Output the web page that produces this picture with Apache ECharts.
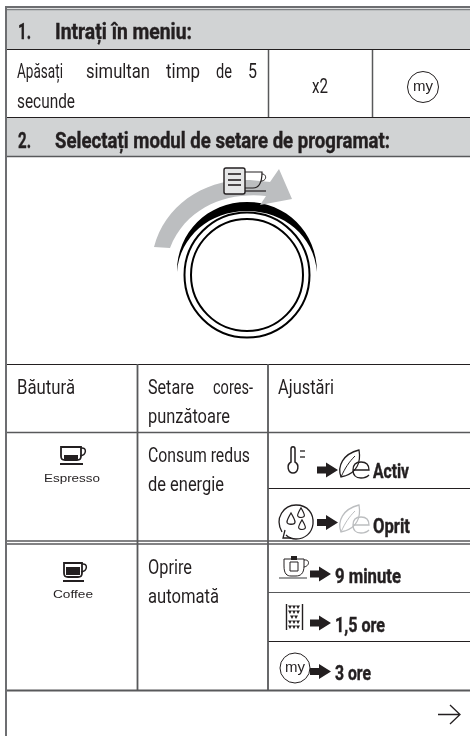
<!DOCTYPE html>
<html><head><meta charset="utf-8">
<style>html,body{margin:0;padding:0;background:#fff}#c{width:470px;height:736px}</style>
<script src="https://cdn.jsdelivr.net/npm/echarts@6/dist/echarts.min.js"></script>
</head><body><div id="c"></div>
<script>
const NARROW='"Roboto","Liberation Sans",sans-serif';
const ARIAL='"Liberation Sans",Arial,sans-serif';
// text, x, baseline y, target width
const headings=[['1.',18,38,13],['Intrați în meniu:',55,38,137],['2.',18,147,13],['Selectați modul de setare de programat:',55,147,335]];
const bodyWords=[['Apăsați',17,77,46],['simultan',86,77,64],['timp',166,77,34],['de',216,77,16],['5',248,77,9],['secunde',17,107,58],
['x2',312,92,16],['Băutură',17,393,58],['Setare',148,393,46],['cores-',213,393,40],['punzătoare',148,422,82],['Ajustări',278,393,56],
['Consum redus',148,461,102],['de energie',148,490,76],['Oprire',148,573,44],['automată',148,602,71]];
const boldWords=[['Activ',373,477,36],['Oprit',373,532,37],['9 minute',335,582,66],['1,5 ore',335,631,50],['3 ore',335,679,36]];
const beverages=[['Espresso',44,481,56],['Coffee',53,597,40]];
const arrowRows=[[317,470],[317,522.5],[310,574],[310,623],[310,671.5]];
const EL=[];
let pid=0;
function rect(x,y,w,h,fill){EL.push({type:'rect',silent:true,shape:{x,y,width:w,height:h},style:{fill}});}
function line(x1,y1,x2,y2,stroke,lw){EL.push({type:'line',silent:true,shape:{x1,y1,x2,y2},style:{stroke,lineWidth:lw}});}
function circle(cx,cy,r,stroke,lw,fill){EL.push({type:'circle',silent:true,shape:{cx,cy,r},style:{stroke,lineWidth:lw,fill:fill||'none'}});}
function rawPath(d,style,x,y,sx,sy){const name='svgp'+(pid++);echarts.graphic.registerShape(name,echarts.graphic.extendPath(d,{}));
 EL.push({type:name,silent:true,x:x||0,y:y||0,scaleX:sx||1,scaleY:sy||sx||1,style});}
const path=rawPath;
const meas=document.createElement('canvas').getContext('2d');
function text(s,x,y,w,font,fs,heavy,fam){const f=font+' '+fs+'px '+(fam||NARROW);meas.font=f;const mw=meas.measureText(s).width;
 const style={text:s,x:0,y:0,font:f,fill:'#231f20',verticalAlign:'middle',align:'left'};
 if(heavy){style.stroke='#231f20';style.lineWidth=heavy;}
 EL.push({type:'text',silent:true,x,y:y-fs*0.22,scaleX:w?w/mw:1,style});}

// header bands
rect(7,10,463,39,'#d1d3d4');rect(7,118,463,38,'#d1d3d4');
// rules
const G='#58595b',K='#231f20';
line(5,7,470,7,'#6d6e71',2);line(5,9.5,470,9.5,'#808285',1.5);
line(6,6,6,736,'#6d6e71',2);
line(7,49.5,470,49.5,K,1.2);line(7,117.5,470,117.5,K,1.2);line(7,156.5,470,156.5,G,1.5);
line(268.5,50,268.5,117,G,1.5);line(372.5,50,372.5,117,G,1.5);
line(7,364.5,470,364.5,K,1.2);line(7,432.5,470,432.5,G,1.5);
line(268,488.5,470,488.5,K,1.2);
line(7,541,470,541,G,1.5);line(7,544,470,544,G,1.5);
line(268,592.5,470,592.5,G,1.2);line(268,641.5,470,641.5,K,1.2);
line(7,690.5,470,690.5,G,1.8);
line(137.5,364,137.5,690,G,1.8);line(268,364,268,690,G,1.8);

// text
headings.forEach(t=>text(t[0],t[1],t[2],t[3],'bold',22,0.4));
bodyWords.forEach(t=>text(t[0],t[1],t[2],t[3],'normal',21));
boldWords.forEach(t=>text(t[0],t[1],t[2],t[3],'bold',20,0.4));
beverages.forEach(b=>text(b[0],b[1],b[2],b[3],'normal',11,0,ARIAL));

// dial
path('M177,272 C177,232 208,202 247,202 C286,202 317,232 317,272 C314,236 284,211 247,211 C210,211 180,236 177,272 Z',{fill:'#000'});
path('M154,247 C165,205 205,178 250,180 L270,182 L279,169 L292,199 L260,205 L266,196 C230,192 187,205 170,248 Z',{fill:'#bcbec0'});
circle(247,275,62.5,'#000',2);circle(247,275,56,'#000',2);
// programme icon
path('M245,172 L262,172 C262,182 259,188 253,188 L245,188',{fill:'none',stroke:K,lineWidth:1.2});
path('M262,174 C267,174 267,181 261,181',{fill:'none',stroke:K,lineWidth:1});
line(245,191,266,191,K,1.2);
EL.push({type:'rect',silent:true,shape:{x:224,y:168,width:21,height:26,r:2},style:{fill:'#e6e7e8',stroke:K,lineWidth:1.4}});
line(228,174,241,174,K,1.6);line(228,180,241,180,K,1.6);line(228,185,241,185,K,1.6);

// beverage icons
function cup(x,y,w,h){
 path(`M${x},${y} L${x+w},${y} L${x+w},${y+h-4} C${x+w},${y+h} ${x+w-2},${y+h} ${x+w-4},${y+h} L${x+4},${y+h} C${x+2},${y+h} ${x},${y+h} ${x},${y+h-4} Z`,{fill:'#fff',stroke:K,lineWidth:1.8});
 path(`M${x+w},${y+1} C${x+w+6},${y} ${x+w+6},${y+8} ${x+w-1},${y+9}`,{fill:'none',stroke:K,lineWidth:1.5});
 line(x-1,y+h+4,x+w+2,y+h+4,K,2);
}
cup(61,447,20,13);rect(64,455,14,4,K);
cup(64,563,18,14);rect(66,567,14,8,K);

// my circles
function my(cx,cy,r,fs){circle(cx,cy,r,K,1);EL.push({type:'text',silent:true,x:cx,y:cy-fs*0.02,style:{text:'my',font:fs+'px '+ARIAL,fill:K,align:'center',verticalAlign:'middle'}});}
my(423,87,15.5,15);my(295,668,15,15);

// thick arrows
arrowRows.forEach(a=>rawPath('M0,-3.5 L9,-3.5 L9,-7.5 L21,0 L9,7.5 L9,3.5 L0,3.5 Z',{fill:K},a[0],a[1]));

// leaf icons
function leaf(ox,oy,col){
 rawPath('M2,27 C-2,16 4,4 20,0 C22,12 18,22 6,26 Z',{fill:'none',stroke:col,lineWidth:1.3},ox,oy);
 rawPath('M2,27 C6,18 10,12 16,6',{fill:'none',stroke:col,lineWidth:1},ox,oy);
 rawPath('M14,20 L30,20 C30,15 27,12 22,12 C17,12 14,15 14,20 C14,25 17,28 22,28 C25,28 28,27 30,25',{fill:'none',stroke:col,lineWidth:1.3},ox,oy);
}
leaf(339,450,K);leaf(339,505,'#bcbec0');

// thermometer
rawPath('M291,449 C291,446 295,446 295,449 L295,462 C300,465 298,473 293,473 C288,473 286,465 291,462 Z',{fill:'none',stroke:K,lineWidth:1.5});
line(300,451,305,451,K,1.3);line(300,457,305,457,K,1.3);

// refresh icon
rawPath('M282,532 C274,518 284,505 296,505 C308,505 314,514 313,524 C312,533 305,539 296,539 C291,539 288,537 286,535',{fill:'none',stroke:K,lineWidth:1.3});
rawPath('M285,530 L283,538 L291,538',{fill:'none',stroke:K,lineWidth:1.3});
[[291,519,1],[301,513,.85],[302,525,.85]].forEach(d=>rawPath('M0,-6 C3,-1 4,1 4,3 C4,6 -4,6 -4,3 C-4,1 -3,-1 0,-6 Z',{fill:'none',stroke:K,lineWidth:1.3},d[0],d[1],d[2]));

// tea icon
rawPath('M284,559 L304,559 L304,566 C304,574 300,576 296,576 L291,576 C287,576 284,574 284,566 Z',{fill:'none',stroke:K,lineWidth:1});
rawPath('M304,560 C310,559 310,566 304,567',{fill:'none',stroke:K,lineWidth:1});
rawPath('M290,562 L298,562 L298,571 L290,571 Z',{fill:'none',stroke:K,lineWidth:1});
rect(291,556,6,4,K);
line(279,578,307,578,G,1.2);

// bean icon
line(286.5,604,286.5,630,K,1.4);line(302.5,604,302.5,630,K,1.4);
[[290,607],[294,607],[298,607],[290,612],[294,612],[298,612],[292,617],[296,617],[290,622],[294,622],[298,622],[290,627],[294,627],[298,627]].forEach(p=>rawPath('M-2,-1.5 L2,-1.5 L0,2 Z',{fill:K},p[0],p[1]));

// continue arrow
rawPath('M438,714.5 L459,714.5 M450,705 L460,714.5 L450,724',{fill:'none',stroke:K,lineWidth:1.3});

const chart=echarts.init(document.getElementById('c'),null,{renderer:'canvas'});
chart.setOption({animation:false,backgroundColor:'#fff',graphic:{elements:EL}});
</script></body></html>
